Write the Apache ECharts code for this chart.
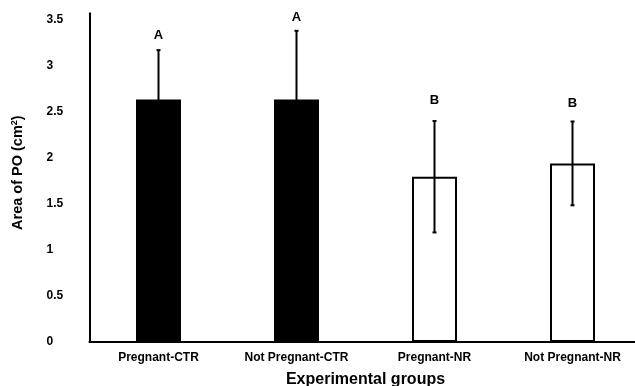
<!DOCTYPE html>
<html><head><meta charset="utf-8">
<script src="https://cdn.jsdelivr.net/npm/echarts@6/dist/echarts.min.js"></script>
<style>html,body{margin:0;padding:0;background:#fff}#c{width:635px;height:386px}</style>
</head><body><div id="c"></div>
<script>
const categories = ['Pregnant-CTR', 'Not Pregnant-CTR', 'Pregnant-NR', 'Not Pregnant-NR'];
const means = [2.635, 2.635, 1.795, 1.94];
const sds = [0.535, 0.745, 0.605, 0.455];
const letters = ['A', 'A', 'B', 'B'];
const letterHeights = [3.33, 3.525, 2.62, 2.59];
const filled = [true, true, false, false];
const yMin = 0, yMax = 3.57, yInterval = 0.5;

const FONT = '"Liberation Sans", Arial, sans-serif';
const chart = echarts.init(document.getElementById('c'), null, {renderer: 'canvas'});

const barData = means.map((m, i) => ({
  value: m,
  itemStyle: filled[i]
    ? {color: '#000', borderColor: '#000', borderWidth: 0}
    : {color: '#fff', borderColor: '#000', borderWidth: 2}
}));
const errData = means.map((m, i) => [i, m - sds[i], m + sds[i]]);
const letterData = letterHeights.map((h, i) => [i, h]);

chart.setOption({
  animation: false,
  backgroundColor: '#fff',
  grid: {left: 89.5, width: 552, top: 13.3, bottom: 44, containLabel: false, outerBoundsMode: 'none'},
  xAxis: {
    type: 'category',
    data: categories,
    axisLine: {lineStyle: {color: '#000', width: 2}},
    axisTick: {show: false},
    axisLabel: {color: '#000', fontFamily: FONT, fontWeight: 'bold', fontSize: 12, margin: 10},
    name: 'Experimental groups',
    nameLocation: 'middle',
    nameGap: 30,
    nameTextStyle: {color: '#000', fontFamily: FONT, fontWeight: 'bold', fontSize: 16}
  },
  yAxis: {
    type: 'value',
    min: yMin, max: yMax, interval: yInterval,
    splitLine: {show: false},
    axisLine: {show: true, lineStyle: {color: '#000', width: 2}},
    axisTick: {show: false},
    axisLabel: {color: '#000', fontFamily: FONT, fontWeight: 'bold', fontSize: 12,
      align: 'left', margin: 43, showMaxLabel: false},
    name: 'Area of PO (cm{sup|2})',
    nameLocation: 'middle',
    nameGap: 64,
    nameTextStyle: {color: '#000', fontFamily: FONT, fontWeight: 'bold', fontSize: 14.5,
      padding: [0, 0, 0, 10],
      rich: {sup: {fontFamily: FONT, fontWeight: 'bold', fontSize: 9, verticalAlign: 'top', padding: [0, 0, 6, 0], color: '#000'}}}
  },
  series: [
    {
      type: 'bar',
      data: barData,
      barWidth: 45,
      z: 2
    },
    {
      type: 'custom',
      z: 3,
      clip: false,
      data: errData,
      encode: {x: 0, y: [1, 2]},
      renderItem: function (params, api) {
        const x = api.value(0);
        const lo = api.coord([x, api.value(1)]);
        const hi = api.coord([x, api.value(2)]);
        const cap = 2;
        const st = {stroke: '#000', lineWidth: 2};
        return {
          type: 'group',
          children: [
            {type: 'line', shape: {x1: lo[0], y1: lo[1], x2: hi[0], y2: hi[1]}, style: st},
            {type: 'line', shape: {x1: hi[0] - cap, y1: hi[1], x2: hi[0] + cap, y2: hi[1]}, style: st},
            {type: 'line', shape: {x1: lo[0] - cap, y1: lo[1], x2: lo[0] + cap, y2: lo[1]}, style: st}
          ]
        };
      }
    },
    {
      type: 'custom',
      z: 4,
      clip: false,
      data: letterData,
      encode: {x: 0, y: 1},
      renderItem: function (params, api) {
        const p = api.coord([api.value(0), api.value(1)]);
        return {
          type: 'text',
          x: p[0], y: p[1],
          style: {
            text: letters[params.dataIndex],
            fill: '#000',
            font: 'bold 13px ' + FONT,
            align: 'center',
            verticalAlign: 'middle'
          }
        };
      }
    }
  ]
});
</script>
</body></html>
